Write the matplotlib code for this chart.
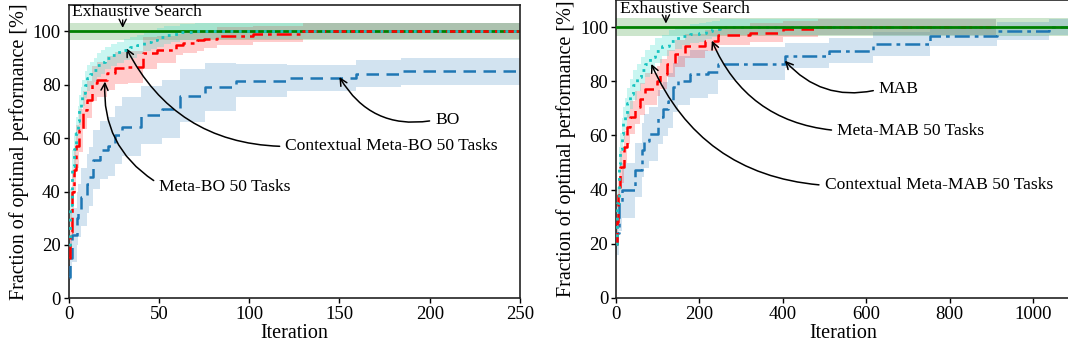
import matplotlib
matplotlib.use("Agg")
import matplotlib.pyplot as plt
import numpy as np

plt.rcParams['font.family'] = ['Liberation Serif', 'DejaVu Serif']
plt.rcParams['font.size'] = 13

# ---------------- Left panel data (BO) ----------------
it_bo = [0, 1, 2, 4.5, 5.5, 7, 10, 11.5, 13.5, 17.5, 22, 26, 29.5, 40, 52, 62, 75.5, 93, 121, 159, 184, 250]
bo = [8, 15, 23.7, 30, 33, 38, 43, 45.6, 51.9, 55.6, 56.9, 61.2, 64.3, 68.7, 70.9, 75.9, 79.2, 81.6, 82.5, 84.1, 85, 85]
bo_sd = [5, 8, 10, 10, 10, 11, 11, 11, 11, 11, 11, 11, 11, 11, 11, 10, 9, 6, 5, 5, 5, 5]

it_mbo = [0, 1, 2, 3, 4, 5.8, 8, 10.4, 13, 16, 21.5, 25.6, 33, 41.4, 48.8, 59.8, 63.5, 71, 75, 82, 102, 130, 250]
mbo = [15, 25, 40, 48, 57, 63, 70.6, 74.4, 80.6, 81.9, 84.4, 86.2, 86.8, 91.9, 93.1, 95, 95.8, 96.6, 97.1, 98.3, 99.1, 100, 100]
mbo_sd = [8, 8, 8, 8, 8, 8, 7, 7, 6.5, 6.5, 6.5, 6, 6, 6, 5, 4, 4, 4, 3.5, 3.5, 3, 3, 3]

it_cmbo = [0, 1, 2.1, 3, 4, 5, 5.8, 7, 7.7, 9, 10.4, 12, 14.1, 16, 17.8, 20, 23.4, 27, 30.7, 34, 38, 42, 45.5, 49, 52.9, 57, 62, 70, 250]
cmbo = [20, 35, 49.4, 56, 61.9, 66.5, 70.6, 74, 76.9, 80, 82.5, 84, 85.6, 87.3, 88.7, 90, 91.2, 92.2, 93.1, 94, 95, 96, 96.9, 97.8, 98.7, 99.2, 99.6, 100, 100]
cmbo_sd = [6, 6, 6, 6, 6, 5.5, 5.5, 5, 5, 5, 5, 4.5, 4.5, 4.5, 4.5, 4, 4, 4, 4, 4, 3.5, 3.5, 3.5, 3.5, 3.5, 3, 3, 3, 3]

# ---------------- Right panel data (MAB) ----------------
it_mab = [0, 3, 6.8, 14.8, 46.7, 62.6, 68, 78.6, 102, 114, 126, 138, 150, 178, 222, 246, 405, 511, 615, 753, 914, 1038, 1085]
mab = [20, 24, 34.9, 39.7, 47.1, 54.5, 58, 60.6, 66.7, 69.8, 72.9, 77.8, 80.2, 82.7, 83.3, 86.5, 89.4, 91.3, 93.7, 96.8, 98.5, 100, 100]
mab_sd = [5, 8, 10, 10, 10, 10, 10, 10, 10, 10, 10, 9, 9, 9, 8, 6, 4.6, 4.6, 4.4, 3.6, 3.3, 3, 3]

it_mmab = [0, 3, 6, 10.8, 18.8, 26.8, 34.8, 46.7, 58.7, 70.7, 98.6, 106.6, 122.6, 142.5, 166.5, 214, 246, 321, 400, 485, 912]
mmab = [20, 28, 38, 48.3, 55.7, 63, 66.7, 70.4, 73.5, 77.2, 80.2, 82.7, 86.4, 90.1, 93.1, 95, 96.9, 97.9, 99.2, 100, 100]
mmab_sd = [6, 6, 6, 6, 6, 6, 6, 6, 6, 6, 5.5, 5.5, 5, 5, 4.5, 4, 3.5, 3.5, 3, 3, 3]

it_cmmab = [0, 3, 6.9, 10, 14.8, 18, 22.8, 28, 34.8, 42, 50.8, 60, 70.7, 82, 94.6, 110, 126.6, 142, 158.6, 178, 198.5, 215, 230.4, 250, 912]
cmmab = [20, 35, 49.6, 55, 60.6, 64.5, 68, 72, 75.3, 78.5, 81.5, 84, 86.4, 89, 91.3, 93.2, 95, 96, 96.8, 97.5, 98, 98.7, 99.3, 100, 100]
cmmab_sd = [6, 6, 6, 6, 6, 6, 6, 5.5, 5.5, 5.5, 5, 5, 5, 4.5, 4.5, 4, 4, 4, 3.5, 3.5, 3.5, 3, 3, 3, 3]

exhaustive = 100
exhaustive_sd = 3.2

left_xticks = [0, 50, 100, 150, 200, 250]
right_xticks = [0, 200, 400, 600, 800, 1000]
yticks = [0, 20, 40, 60, 80, 100]

C_BLUE = '#1f77b4'
C_RED = '#ff0000'
C_CYAN = '#17c4c0'
C_CYAN_F = '#40e0d0'
C_GREEN = '#008000'

LABEL_FS = 14.5
TICK_FS = 13.5
ANN_FS = 12.6

fig = plt.figure(figsize=(10.68, 3.56), dpi=100)
axL = fig.add_axes([68.5/1068, 57.7/356, 451.5/1068, 293.6/356])
axR = fig.add_axes([615.8/1068, 58/356, 455/1068, 298/356])


def band(ax, x, y, sd, color, alpha, z):
    x = np.asarray(x, float); y = np.asarray(y, float); sd = np.asarray(sd, float)
    ax.fill_between(x, y - sd, y + sd, step='post', color=color, alpha=alpha, lw=0, zorder=z)


def curve(ax, x, y, color, ls, z, lw=1.8):
    ax.plot(x, y, drawstyle='steps-post', color=color, ls=ls, lw=lw, zorder=z)


# Left
band(axL, [0, 250], [exhaustive]*2, [exhaustive_sd]*2, C_GREEN, 0.2, 1)
band(axL, it_bo, bo, bo_sd, C_BLUE, 0.2, 1)
band(axL, it_mbo, mbo, mbo_sd, C_RED, 0.2, 1)
band(axL, it_cmbo, cmbo, cmbo_sd, C_CYAN_F, 0.28, 1)
axL.axhline(exhaustive, color=C_GREEN, lw=2, zorder=2)
curve(axL, it_bo, bo, C_BLUE, (0, (5, 3)), 3)
curve(axL, it_mbo, mbo, C_RED, (0, (6, 2, 1.5, 2)), 3)
curve(axL, it_cmbo, cmbo, C_CYAN, (0, (1, 2)), 4, lw=2)

# Right
band(axR, [0, 1090], [exhaustive]*2, [exhaustive_sd]*2, C_GREEN, 0.2, 1)
band(axR, it_mab, mab, mab_sd, C_BLUE, 0.2, 1)
band(axR, it_mmab, mmab, mmab_sd, C_RED, 0.2, 1)
band(axR, it_cmmab, cmmab, cmmab_sd, C_CYAN_F, 0.28, 1)
curve(axR, it_mab, mab, C_BLUE, (0, (6, 2, 1.5, 2)), 3)
curve(axR, it_mmab, mmab, C_RED, (0, (5, 3)), 3)
curve(axR, it_cmmab, cmmab, C_CYAN, (0, (1, 2)), 3, lw=2)
axR.axhline(exhaustive, color=C_GREEN, lw=2, zorder=5)

for ax in (axL, axR):
    ax.set_ylim(0, 110)
    ax.set_yticks(yticks)
    ax.set_ylabel('Fraction of optimal performance [%]', fontsize=LABEL_FS, labelpad=3)
    ax.set_xlabel('Iteration', fontsize=LABEL_FS, labelpad=1)
    ax.tick_params(labelsize=TICK_FS, length=3.5, width=1, pad=2)
    for s in ax.spines.values():
        s.set_color('#222222')
        s.set_linewidth(1.2)

axL.set_xlim(0, 250)
axL.set_xticks(left_xticks)
axR.set_xlim(0, 1090)
axR.set_xticks(right_xticks)

ap = dict(arrowstyle='->', color='black', lw=1.1, shrinkA=2, shrinkB=0)

# Left annotations
axL.text(2, 107.3, 'Exhaustive Search', va='center', ha='left', fontsize=ANN_FS)
axL.annotate('', xy=(30, 101.3), xytext=(30, 104.3), arrowprops=dict(arrowstyle='->', lw=1, shrinkA=0, shrinkB=0))
axL.annotate('BO', xy=(150, 82.9), xytext=(203, 66.8), ha='left', va='center', fontsize=ANN_FS,
             arrowprops=dict(ap, connectionstyle='arc3,rad=-0.35', relpos=(0, 0.5)))
axL.annotate('Contextual Meta-BO 50 Tasks', xy=(32, 93.7), xytext=(120, 56.9), ha='left', va='center', fontsize=ANN_FS,
             arrowprops=dict(ap, connectionstyle='arc3,rad=-0.3', relpos=(0, 0.5)))
axL.annotate('Meta-BO 50 Tasks', xy=(20.2, 81.2), xytext=(50, 41.7), ha='left', va='center', fontsize=ANN_FS,
             arrowprops=dict(ap, connectionstyle='arc3,rad=-0.3', relpos=(0, 0.7)))

# Right annotations
axR.text(10, 106.7, 'Exhaustive Search', va='center', ha='left', fontsize=ANN_FS)
axR.annotate('', xy=(120, 101.3), xytext=(120, 104.3), arrowprops=dict(arrowstyle='->', lw=1, shrinkA=0, shrinkB=0))
axR.annotate('MAB', xy=(405, 87.6), xytext=(630, 77), ha='left', va='center', fontsize=ANN_FS,
             arrowprops=dict(ap, connectionstyle='arc3,rad=-0.3', relpos=(0, 0.5)))
axR.annotate('Meta-MAB 50 Tasks', xy=(230, 95), xytext=(530, 61.8), ha='left', va='center', fontsize=ANN_FS,
             arrowprops=dict(ap, connectionstyle='arc3,rad=-0.3', relpos=(0, 0.5)))
axR.annotate('Contextual Meta-MAB 50 Tasks', xy=(85, 86.4), xytext=(500, 41.6), ha='left', va='center', fontsize=ANN_FS,
             arrowprops=dict(ap, connectionstyle='arc3,rad=-0.3', relpos=(0, 0.5)))

fig.savefig('out.png', dpi=100)
